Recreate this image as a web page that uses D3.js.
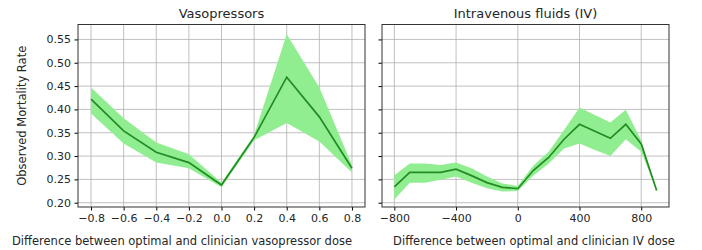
<!DOCTYPE html>
<html>
<head>
<meta charset="utf-8">
<script src="https://cdnjs.cloudflare.com/ajax/libs/d3/7.8.5/d3.min.js"></script>
<style>
  body { margin: 0; background: #fff; }
  svg { font-family: 'DejaVu Sans', sans-serif; }
</style>
</head>
<body>
<div id="chart"></div>
<script>
// vasopressor panel
const vasoX = [-0.8, -0.6, -0.4, -0.2, 0.0, 0.2, 0.4, 0.6, 0.8]
const vasoMean = [0.422, 0.354, 0.308, 0.286, 0.238, 0.340, 0.469, 0.384, 0.274]
const vasoUpper = [0.447, 0.381, 0.329, 0.304, 0.243, 0.345, 0.561, 0.447, 0.281]
const vasoLower = [0.391, 0.327, 0.286, 0.274, 0.233, 0.334, 0.371, 0.331, 0.265]

// IV fluids panel
const ivX = [-800, -700, -600, -500, -400, -300, -200, -100, 0, 100, 200, 300, 400, 500, 600, 700, 800, 900]
const ivMean = [0.234, 0.265, 0.265, 0.265, 0.272, 0.258, 0.243, 0.233, 0.230, 0.269, 0.297, 0.336, 0.368, 0.353, 0.338, 0.368, 0.326, 0.226]
const ivUpper = [0.259, 0.284, 0.284, 0.281, 0.286, 0.274, 0.256, 0.241, 0.236, 0.279, 0.309, 0.356, 0.404, 0.388, 0.372, 0.399, 0.334, 0.226]
const ivLower = [0.207, 0.243, 0.243, 0.249, 0.256, 0.243, 0.231, 0.224, 0.225, 0.258, 0.284, 0.316, 0.327, 0.313, 0.300, 0.336, 0.309, 0.226]

const yTicks = [0.20, 0.25, 0.30, 0.35, 0.40, 0.45, 0.50, 0.55]
const vasoTicks = [-0.8, -0.6, -0.4, -0.2, 0.0, 0.2, 0.4, 0.6, 0.8]
const ivTicks = [-800, -400, 0, 400, 800]

const width = 702
const height = 250
const plotTop = 24.5
const plotBottom = 207

const svg = d3.select('#chart')
  .append('svg')
  .attr('width', width)
  .attr('height', height)

const y = d3.scaleLinear()
  .domain([0.1908, 0.582])
  .range([plotBottom, plotTop])

function panel (opts) {
  const x = d3.scaleLinear()
    .domain(opts.domain)
    .range([opts.left, opts.right])

  const g = svg.append('g')

  // grid
  g.append('g')
    .selectAll('line')
    .data(opts.ticks)
    .join('line')
    .attr('x1', d => x(d)).attr('x2', d => x(d))
    .attr('y1', plotTop).attr('y2', plotBottom)
    .attr('stroke', '#b0b0b0')
    .attr('stroke-width', 0.8)
  g.append('g')
    .selectAll('line')
    .data(yTicks)
    .join('line')
    .attr('x1', opts.left).attr('x2', opts.right)
    .attr('y1', d => y(d)).attr('y2', d => y(d))
    .attr('stroke', '#b0b0b0')
    .attr('stroke-width', 0.8)

  const rows = opts.xs.map((d, i) => ({ x: d, m: opts.mean[i], lo: opts.lower[i], hi: opts.upper[i] }))

  g.append('path')
    .datum(rows)
    .attr('fill', '#90ee90')
    .attr('d', d3.area()
      .x(d => x(d.x))
      .y0(d => y(d.lo))
      .y1(d => y(d.hi)))

  g.append('path')
    .datum(rows)
    .attr('fill', 'none')
    .attr('stroke', '#228b22')
    .attr('stroke-width', 1.7)
    .attr('d', d3.line()
      .x(d => x(d.x))
      .y(d => y(d.m)))

  // axes
  const xAxis = g.append('g')
    .attr('transform', 'translate(0,' + plotBottom + ')')
    .call(d3.axisBottom(x)
      .tickValues(opts.ticks)
      .tickSize(3.5)
      .tickPadding(3.5)
      .tickFormat(opts.fmt))
  xAxis.select('.domain').remove()
  xAxis.selectAll('text').attr('font-size', 11).attr('fill', '#262626')
    .attr('font-family', "'DejaVu Sans', sans-serif")

  const yAxis = g.append('g')
    .attr('transform', 'translate(' + opts.left + ',0)')
    .call(d3.axisLeft(y)
      .tickValues(yTicks)
      .tickSize(3.5)
      .tickPadding(3.5)
      .tickFormat(opts.yLabels ? d3.format('.2f') : ''))
  yAxis.select('.domain').remove()
  yAxis.selectAll('text').attr('font-size', 11).attr('fill', '#262626')
    .attr('font-family', "'DejaVu Sans', sans-serif")

  // frame
  g.append('rect')
    .attr('x', opts.left).attr('y', plotTop)
    .attr('width', opts.right - opts.left)
    .attr('height', plotBottom - plotTop)
    .attr('fill', 'none')
    .attr('stroke', '#333')
    .attr('stroke-width', 1)

  g.append('text')
    .attr('x', (opts.left + opts.right) / 2)
    .attr('y', 18)
    .attr('text-anchor', 'middle')
    .attr('font-size', 13)
    .attr('fill', '#262626')
    .text(opts.title)

  g.append('text')
    .attr('x', opts.labelX)
    .attr('y', 245)
    .attr('text-anchor', 'middle')
    .attr('font-size', 11.5)
    .attr('fill', '#262626')
    .text(opts.xLabel)
}

panel({
  left: 78,
  right: 365,
  domain: [-0.88, 0.88],
  ticks: vasoTicks,
  fmt: d => d3.format('.1f')(d).replace('-', '\u2212'),
  xs: vasoX,
  mean: vasoMean,
  upper: vasoUpper,
  lower: vasoLower,
  yLabels: true,
  title: 'Vasopressors',
  xLabel: 'Difference between optimal and clinician vasopressor dose',
  labelX: 182
})

panel({
  left: 382,
  right: 669,
  domain: [-880, 980],
  ticks: ivTicks,
  fmt: d => String(d).replace('-', '\u2212'),
  xs: ivX,
  mean: ivMean,
  upper: ivUpper,
  lower: ivLower,
  yLabels: false,
  title: 'Intravenous fluids (IV)',
  xLabel: 'Difference between optimal and clinician IV dose',
  labelX: 534
})

svg.append('text')
  .attr('transform', 'translate(26,' + (plotTop + plotBottom) / 2 + ') rotate(-90)')
  .attr('text-anchor', 'middle')
  .attr('font-size', 11.5)
  .attr('fill', '#262626')
  .text('Observed Mortality Rate')
</script>
</body>
</html>
